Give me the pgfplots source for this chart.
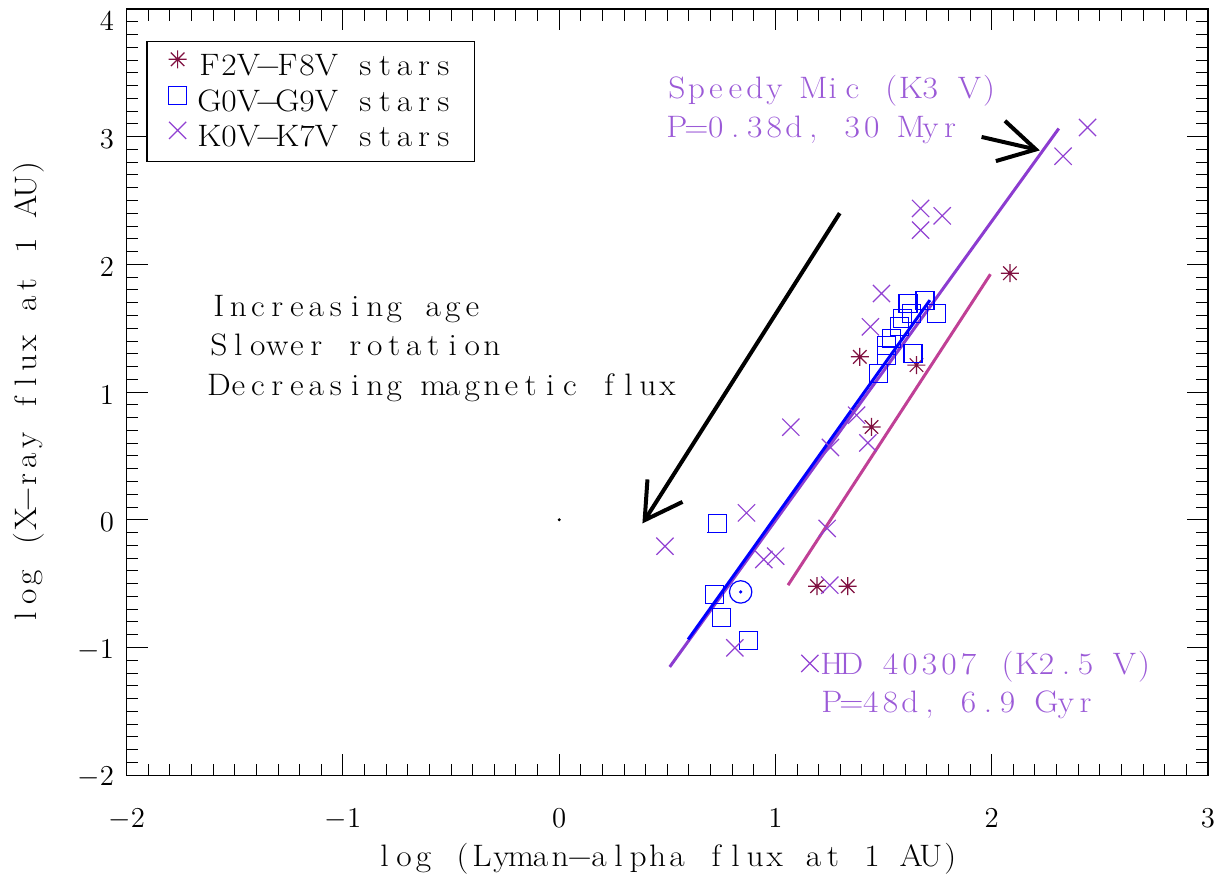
\documentclass[border=0pt]{standalone}
\usepackage{graphicx}
\usepackage{pgfplots}
\pgfplotsset{compat=1.18}

\definecolor{fstar}{RGB}{128,16,64}
\definecolor{gstar}{RGB}{0,0,255}
\definecolor{kstar}{RGB}{145,65,210}
\definecolor{ktext}{RGB}{155,90,215}
\definecolor{fline}{RGB}{192,64,150}
\definecolor{kline}{RGB}{140,60,208}

% fixed-pitch text: every character sits in a cell of the same width
\newlength\monowd
\setlength\monowd{9.75pt}
\ExplSyntaxOn
\NewDocumentCommand\mono{m}{\str_map_inline:nn{#1}{\makebox[\monowd]{\scalebox{1.08}[1]{##1}}}}
\ExplSyntaxOff
\newcommand\txt{\fontsize{15.5}{19.5}\selectfont}
\newcommand\tickfont{\fontsize{14}{16}\selectfont}
% tick labels: a strut sets how far the numbers sit from the frame
\newcommand\xtl[1]{\tickfont\rule{0pt}{22.5pt}$#1$}
\newcommand\ytl[1]{\tickfont\rule{0pt}{12pt}$#1$\hspace*{2.8pt}}

% eight-armed asterisk, square (two open halves), plain cross and solar symbol
\pgfdeclareplotmark{ast8}{%
  \pgfpathmoveto{\pgfqpoint{0pt}{\pgfplotmarksize}}%
  \pgfpathlineto{\pgfqpoint{0pt}{-\pgfplotmarksize}}%
  \pgfpathmoveto{\pgfqpoint{\pgfplotmarksize}{0pt}}%
  \pgfpathlineto{\pgfqpoint{-\pgfplotmarksize}{0pt}}%
  \pgfpathmoveto{\pgfqpoint{.75\pgfplotmarksize}{.75\pgfplotmarksize}}%
  \pgfpathlineto{\pgfqpoint{-.75\pgfplotmarksize}{-.75\pgfplotmarksize}}%
  \pgfpathmoveto{\pgfqpoint{-.75\pgfplotmarksize}{.75\pgfplotmarksize}}%
  \pgfpathlineto{\pgfqpoint{.75\pgfplotmarksize}{-.75\pgfplotmarksize}}%
  \pgfusepathqstroke}
\pgfdeclareplotmark{sq}{%
  \pgfpathmoveto{\pgfqpoint{-1.07\pgfplotmarksize}{-\pgfplotmarksize}}%
  \pgfpathlineto{\pgfqpoint{\pgfplotmarksize}{-\pgfplotmarksize}}%
  \pgfpathlineto{\pgfqpoint{\pgfplotmarksize}{1.07\pgfplotmarksize}}%
  \pgfpathmoveto{\pgfqpoint{1.07\pgfplotmarksize}{\pgfplotmarksize}}%
  \pgfpathlineto{\pgfqpoint{-\pgfplotmarksize}{\pgfplotmarksize}}%
  \pgfpathlineto{\pgfqpoint{-\pgfplotmarksize}{-1.07\pgfplotmarksize}}%
  \pgfusepathqstroke}
\pgfdeclareplotmark{xcross}{%
  \pgfpathmoveto{\pgfqpoint{-\pgfplotmarksize}{-\pgfplotmarksize}}%
  \pgfpathlineto{\pgfqpoint{\pgfplotmarksize}{\pgfplotmarksize}}%
  \pgfpathmoveto{\pgfqpoint{-\pgfplotmarksize}{\pgfplotmarksize}}%
  \pgfpathlineto{\pgfqpoint{\pgfplotmarksize}{-\pgfplotmarksize}}%
  \pgfusepathqstroke}
\pgfdeclareplotmark{sun}{%
  \pgfpathcircle{\pgfpointorigin}{\pgfplotmarksize}\pgfusepathqstroke
  \pgfpathcircle{\pgfpointorigin}{0.9pt}\pgfusepathqfill}

\pgfplotsset{
  legmark/.style={legend image code/.code={\draw[##1,line width=0.6pt] plot coordinates {(0pt,4.2pt)};}},
  gsq/.style={only marks, mark=sq, mark size=4.5pt, draw=gstar, line width=0.6pt, mark options={gstar}},
}

\begin{document}
\begin{tikzpicture}
\begin{axis}[
  name=ax,
  scale only axis, width=540.5pt, height=383pt,
  xmin=-2, xmax=3, ymin=-2, ymax=4,
  xtick={-2,-1,0,1,2,3}, ytick={-2,-1,0,1,2,3,4},
  xticklabels={\xtl{-2},\xtl{-1},\xtl{0},\xtl{1},\xtl{2},\xtl{3}},
  yticklabels={\ytl{-2},\ytl{-1},\ytl{0},\ytl{1},\ytl{2},\ytl{3},
               {\tickfont\rule{0pt}{22pt}$4$\hspace*{2.8pt}}},
  minor tick num=9,
  tick align=inside,
  major tick length=10.5pt, minor tick length=5.8pt,
  tick style={black, line width=0.5pt},
  axis line style={black, line width=0.6pt},
  xlabel={\mono{log (Lyman−alpha flux at 1 AU)}},
  ylabel={\mono{log (X−ray flux at 1 AU)}},
  label style={font=\txt, inner sep=0pt},
  x label style={at={(axis description cs:0.5,-0.1188)}, anchor=base},
  y label style={at={(axis description cs:-0.0833,0.5)}, anchor=base},
  legend style={at={(axis description cs:0.0182,0.9582)}, anchor=north west,
    draw=black, line width=0.6pt, inner xsep=10.5pt, inner ysep=4.35pt,
    column sep=6.2pt, row sep=2pt, font=\txt,
    nodes={inner sep=0pt, text height=11pt, text depth=3pt}},
  legend cell align=left,
]

% F2V-F8V stars
\addplot[only marks, mark=ast8, mark size=4.5pt, draw=fstar, line width=0.6pt,
  mark options={fstar}, legmark] coordinates {
  (2.084,1.931) (1.390,1.276) (1.652,1.211) (1.444,0.727) (1.192,-0.520) (1.334,-0.520)
};
\addlegendentry{\mono{F2V−F8V stars}}

% G0V-G9V stars, one star per plot
\addplot[gsq, legmark] coordinates {(1.691,1.720)};
\addlegendentry{\mono{G0V−G9V stars}}
\addplot[gsq, forget plot] coordinates {(1.613,1.694)};
\addplot[gsq, forget plot] coordinates {(1.629,1.615)};
\addplot[gsq, forget plot] coordinates {(1.745,1.615)};
\addplot[gsq, forget plot] coordinates {(1.575,1.511)};
\addplot[gsq, forget plot] coordinates {(1.537,1.420)};
\addplot[gsq, forget plot] coordinates {(1.513,1.367)};
\addplot[gsq, forget plot] coordinates {(1.513,1.289)};
\addplot[gsq, forget plot] coordinates {(1.636,1.302)};
\addplot[gsq, forget plot] coordinates {(1.475,1.146)};
\addplot[gsq, forget plot] coordinates {(1.589,1.579)};
\addplot[gsq, forget plot] coordinates {(0.730,-0.032)};
\addplot[gsq, forget plot] coordinates {(0.719,-0.588)};
\addplot[gsq, forget plot] coordinates {(0.751,-0.765)};
\addplot[gsq, forget plot] coordinates {(0.876,-0.943)};

% K0V-K7V stars
\addplot[only marks, mark=xcross, mark size=4.3pt, draw=kstar, line width=0.6pt,
  mark options={kstar}, legmark] coordinates {
  (2.443,3.072) (2.330,2.847) (1.671,2.438) (1.671,2.268) (1.771,2.380)
  (1.490,1.772) (1.439,1.511) (1.375,0.819) (1.071,0.725) (1.254,0.566)
  (1.427,0.602) (0.866,0.054) (0.489,-0.207) (0.946,-0.311) (1.001,-0.285)
  (1.239,-0.068) (1.251,-0.512) (0.812,-1.003) (1.159,-1.125)
};
\addlegendentry{\mono{K0V−K7V stars}}

% the Sun
\addplot[forget plot, only marks, mark=sun, mark size=5.6pt, gstar, line width=0.6pt,
  mark options={gstar}] coordinates {(0.839,-0.565)};
% origin
\addplot[forget plot, only marks, mark=*, mark size=0.5pt, black] coordinates {(0,0)};

% power-law fits
\addplot[forget plot, kline, line width=1.5pt] coordinates {(0.511,-1.152) (2.310,3.064)};
\addplot[forget plot, gstar, line width=1.5pt] coordinates {(0.596,-0.937) (1.714,1.720)};
\addplot[forget plot, fline, line width=1.5pt] coordinates {(1.058,-0.512) (1.994,1.923)};

% evolution arrow
\draw[black, line width=2pt] (axis cs:1.297,2.401) -- (axis cs:0.395,-0.003);
\draw[black, line width=2pt, line join=miter] (axis cs:0.408,0.316) -- (axis cs:0.395,-0.003) -- (axis cs:0.570,0.140);
\node[anchor=base west, inner sep=0pt, font=\txt] at (axis cs:-1.621,1.589) {\mono{Increasing age}};
\node[anchor=base west, inner sep=0pt, font=\txt] at (axis cs:-1.621,1.283) {\mono{Slower rotation}};
\node[anchor=base west, inner sep=0pt, font=\txt] at (axis cs:-1.621,0.976) {\mono{Decreasing magnetic flux}};

% Speedy Mic
\draw[black, line width=2pt] (axis cs:1.953,2.998) -- (axis cs:2.204,2.900);
\draw[black, line width=2pt, line join=miter] (axis cs:2.061,3.124) -- (axis cs:2.204,2.900) -- (axis cs:2.019,2.809);
\node[anchor=base west, inner sep=0pt, font=\txt, text=ktext] at (axis cs:0.497,3.301) {\mono{Speedy Mic (K3 V)}};
\node[anchor=base west, inner sep=0pt, font=\txt, text=ktext] at (axis cs:0.497,2.996) {\mono{P=0.38d, 30 Myr}};

% HD 40307
\node[anchor=base west, inner sep=0pt, font=\txt, text=ktext] at (axis cs:1.214,-1.208) {\mono{HD 40307 (K2.5 V)}};
\node[anchor=base west, inner sep=0pt, font=\txt, text=ktext] at (axis cs:1.214,-1.512) {\mono{P=48d, 6.9 Gyr}};
\end{axis}
\pgfresetboundingbox
\path ([shift={(-63.35pt,-51.5pt)}]ax.south west) rectangle ([shift={(9pt,4.5pt)}]ax.north east);
\end{tikzpicture}
\end{document}
